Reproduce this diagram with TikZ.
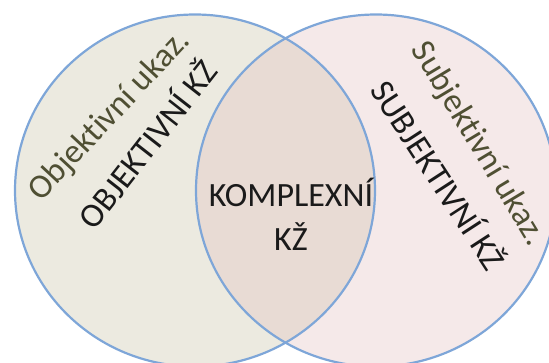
\documentclass[tikz,border=0pt]{standalone}
\usepackage{fontspec}
\setmainfont{Carlito}[Ligatures=NoCommon]
\definecolor{leftfill}{HTML}{ECEAE0}
\definecolor{rightfill}{HTML}{F5E9E9}
\definecolor{midfill}{HTML}{E8DBD4}
\definecolor{ringblue}{HTML}{7EA6D8}
\definecolor{olivetext}{HTML}{4F4F33}
\definecolor{darktext}{HTML}{1A1A1A}
\tikzset{
  ring/.style={draw=ringblue, line width=2.2pt},
  subtext/.style={text=olivetext, font=\fontsize{34}{40}\selectfont, inner sep=0pt},
  maintext/.style={text=darktext, font=\fontsize{34}{40}\selectfont, inner sep=0pt},
}
\begin{document}
\begin{tikzpicture}[x=1pt,y=1pt]
\useasboundingbox (0,0) rectangle (549,362);
\clip (0,0) rectangle (549,362);
\fill[leftfill] (195,171.5) ellipse [x radius=180, y radius=176];
\fill[rightfill] (376,171.5) ellipse [x radius=180, y radius=176];
\begin{scope}
  \clip (195,171.5) ellipse [x radius=180, y radius=176];
  \fill[midfill] (376,171.5) ellipse [x radius=180, y radius=176];
\end{scope}
\draw[ring] (195,171.5) ellipse [x radius=180, y radius=176];
\draw[ring] (376,171.5) ellipse [x radius=180, y radius=176];
\node[subtext, rotate=47] (objukaz) at (110,246) {Objektivní ukaz.};
\node[maintext, rotate=52] (objkz) at (146,219) {OBJEKTIVNÍ KŽ};
\node[subtext, rotate=-59] (subukaz) at (478,218) {Subjektivní ukaz.};
\node[maintext, rotate=-57] (subkz) at (440,188) {SUBJEKTIVNÍ KŽ};
\node[maintext, align=center] (kompl) at (291,148) {KOMPLEXNÍ\\[4pt]KŽ};
\end{tikzpicture}
\end{document}
